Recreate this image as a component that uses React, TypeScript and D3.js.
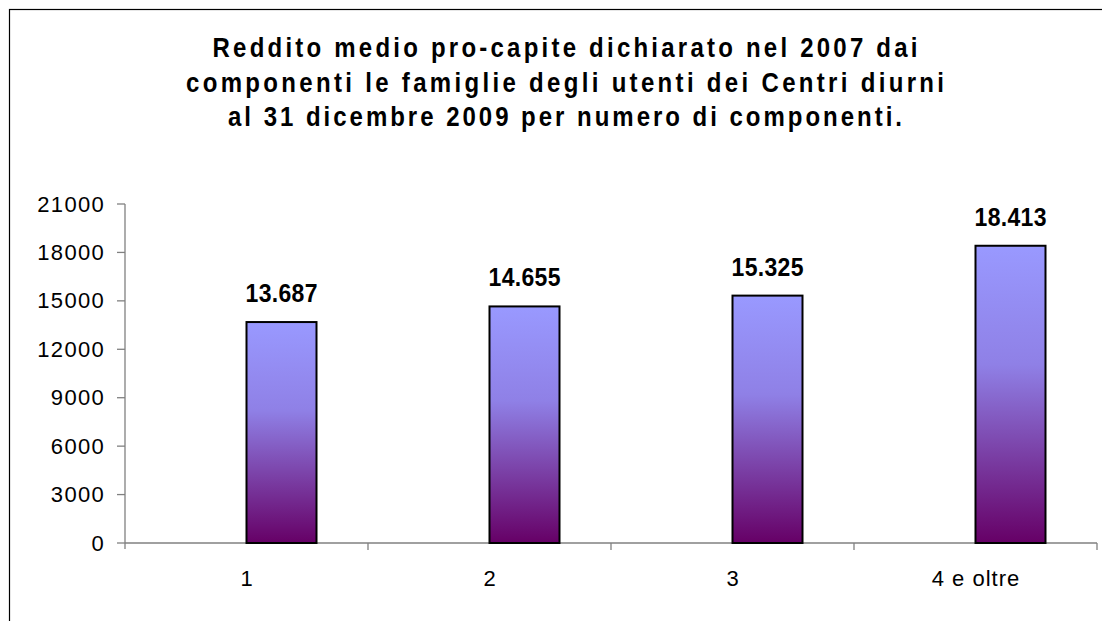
import React, { useEffect, useRef } from "react";
import * as d3 from "d3";

const categories = ["1", "2", "3", "4 e oltre"];
const values = [13687, 14655, 15325, 18413];
const valueLabels = ["13.687", "14.655", "15.325", "18.413"];
const yTicks = [0, 3000, 6000, 9000, 12000, 15000, 18000, 21000];
const titleLines = [
  "Reddito medio pro-capite dichiarato nel 2007 dai",
  "componenti le famiglie degli utenti dei Centri diurni",
  "al 31 dicembre 2009 per numero di componenti.",
];
const titleWidths = [705, 758, 674];

export default function App() {
  const ref = useRef<SVGSVGElement>(null);
  useEffect(() => {
    const svg = d3.select(ref.current);
    svg.selectAll("*").remove();
    const W = 1102, H = 621;
    const left = 125, right = 1097, top = 204, bottom = 543;
    const font = "'Liberation Sans', Arial, sans-serif";

    const defs = svg.append("defs");
    const grad = defs.append("linearGradient").attr("id", "barGrad")
      .attr("x1", 0).attr("y1", 0).attr("x2", 0).attr("y2", 1);
    grad.append("stop").attr("offset", "0%").attr("stop-color", "#9999ff");
    grad.append("stop").attr("offset", "40%").attr("stop-color", "#8f80e6");
    grad.append("stop").attr("offset", "100%").attr("stop-color", "#660066");

    svg.append("rect").attr("x", 9.5).attr("y", 9.5).attr("width", 1111).attr("height", 700)
      .attr("fill", "white").attr("stroke", "black").attr("stroke-width", 1.2);

    titleLines.forEach((l, i) => {
      svg.append("text")
        .attr("transform", `translate(565,${57 + i * 34.5}) scale(1,1.15)`)
        .attr("x", 0).attr("y", 0).attr("text-anchor", "middle")
        .attr("font-family", font).attr("font-weight", "bold").attr("font-size", 24)
        .attr("textLength", titleWidths[i]).attr("lengthAdjust", "spacing")
        .attr("fill", "black").text(l);
    });

    const x = d3.scaleBand().domain(categories).range([left, right]);
    const y = d3.scaleLinear().domain([0, 21000]).range([bottom, top]);
    const axisColor = "#808080";

    // y axis
    svg.append("line").attr("x1", left).attr("x2", left).attr("y1", top).attr("y2", bottom + 6)
      .attr("stroke", axisColor).attr("stroke-width", 1.3);
    yTicks.forEach((t) => {
      svg.append("line").attr("x1", left - 8).attr("x2", left).attr("y1", y(t)).attr("y2", y(t))
        .attr("stroke", axisColor).attr("stroke-width", 1.3);
      svg.append("text").attr("x", 105).attr("y", y(t) + 7.5).attr("text-anchor", "end")
        .attr("font-family", font).attr("font-size", 22).attr("letter-spacing", 1.3)
        .attr("fill", "black").text(String(t));
    });

    // x axis
    svg.append("line").attr("x1", left).attr("x2", right).attr("y1", bottom).attr("y2", bottom)
      .attr("stroke", axisColor).attr("stroke-width", 1.3);
    categories.forEach((c) => {
      const bx = (x(c) as number) + x.bandwidth();
      svg.append("line").attr("x1", bx).attr("x2", bx).attr("y1", bottom).attr("y2", bottom + 7)
        .attr("stroke", axisColor).attr("stroke-width", 1.3);
      svg.append("text").attr("x", (x(c) as number) + x.bandwidth() / 2 + 0.5).attr("y", 585.5)
        .attr("text-anchor", "middle").attr("font-family", font).attr("font-size", 22)
        .attr("letter-spacing", 1).attr("fill", "black").text(c);
    });

    // bars
    const barW = 70;
    categories.forEach((c, i) => {
      const cx = (x(c) as number) + x.bandwidth() / 2;
      svg.append("rect").attr("x", cx).attr("y", y(values[i])).attr("width", barW)
        .attr("height", bottom - y(values[i])).attr("fill", "url(#barGrad)")
        .attr("stroke", "black").attr("stroke-width", 2);
      svg.append("text")
        .attr("transform", `translate(${cx + barW / 2},${y(values[i]) - 20}) scale(1,1.11)`)
        .attr("x", 0).attr("y", 0)
        .attr("text-anchor", "middle").attr("font-family", font).attr("font-weight", "bold")
        .attr("font-size", 23).attr("textLength", 72).attr("lengthAdjust", "spacing")
        .attr("fill", "black").text(valueLabels[i]);
    });

    svg.attr("width", W).attr("height", H);
  }, []);
  return (
    <svg ref={ref} width={1102} height={621}
      style={{ position: "absolute", left: 0, top: 0, display: "block" }} />
  );
}
